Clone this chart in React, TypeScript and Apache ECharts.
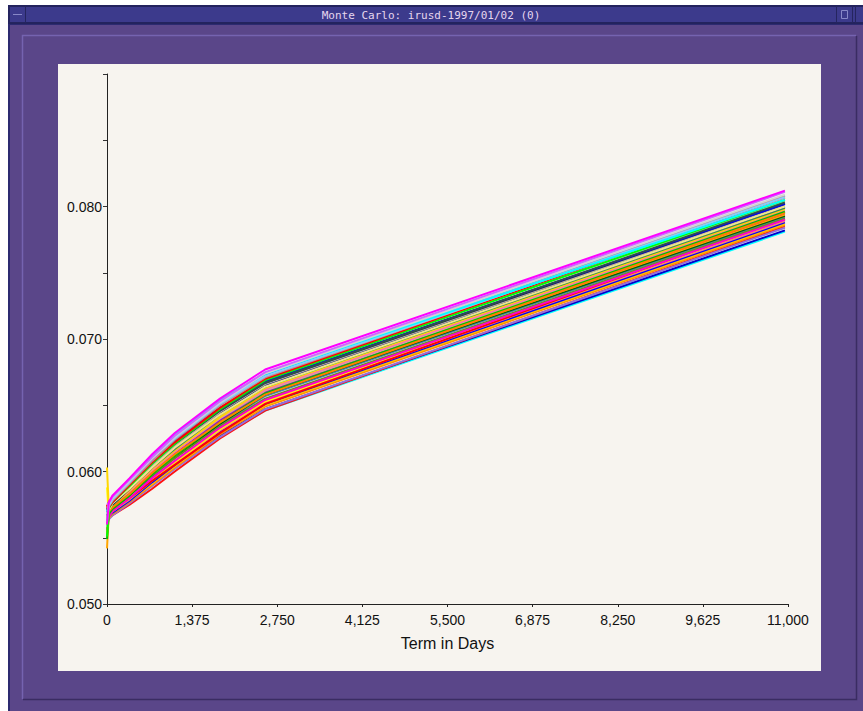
import React, { useEffect, useRef } from "react";
import * as echarts from "echarts";

const terms = [0, 30, 91, 365, 730, 1095, 1825, 2555, 10950];
const xTickLabels = ["0", "1,375", "2,750", "4,125", "5,500", "6,875", "8,250", "9,625", "11,000"];
const yLabelled = ["0.050", "0.060", "0.070", "0.080"];

const path01 = [0.0560, 0.0577, 0.0582, 0.0595, 0.0613, 0.0629, 0.0655, 0.0677, 0.0812];
const path02 = [0.0575, 0.0576, 0.0581, 0.0594, 0.0611, 0.0627, 0.0653, 0.0675, 0.0811];
const path03 = [0.0568, 0.0575, 0.0580, 0.0593, 0.0610, 0.0626, 0.0652, 0.0674, 0.0809];
const path04 = [0.0570, 0.0575, 0.0580, 0.0594, 0.0612, 0.0628, 0.0654, 0.0674, 0.0805];
const path05 = [0.0562, 0.0574, 0.0579, 0.0592, 0.0610, 0.0625, 0.0651, 0.0672, 0.0807];
const path06 = [0.0566, 0.0574, 0.0578, 0.0591, 0.0608, 0.0624, 0.0650, 0.0671, 0.0808];
const path07 = [0.0571, 0.0573, 0.0577, 0.0590, 0.0607, 0.0622, 0.0648, 0.0670, 0.0807];
const path08 = [0.0551, 0.0572, 0.0577, 0.0589, 0.0606, 0.0621, 0.0647, 0.0669, 0.0805];
const path09 = [0.0573, 0.0573, 0.0577, 0.0590, 0.0606, 0.0621, 0.0646, 0.0667, 0.0803];
const path10 = [0.0569, 0.0577, 0.0580, 0.0592, 0.0608, 0.0623, 0.0648, 0.0668, 0.0802];
const path11 = [0.0564, 0.0571, 0.0576, 0.0588, 0.0604, 0.0619, 0.0645, 0.0666, 0.0801];
const path12 = [0.0567, 0.0572, 0.0575, 0.0587, 0.0603, 0.0618, 0.0644, 0.0665, 0.0800];
const path13 = [0.0558, 0.0570, 0.0575, 0.0587, 0.0603, 0.0617, 0.0643, 0.0664, 0.0799];
const path14 = [0.0603, 0.0571, 0.0574, 0.0586, 0.0602, 0.0616, 0.0641, 0.0663, 0.0798];
const path15 = [0.0557, 0.0569, 0.0574, 0.0585, 0.0601, 0.0615, 0.0641, 0.0662, 0.0797];
const path16 = [0.0566, 0.0570, 0.0574, 0.0584, 0.0600, 0.0615, 0.0640, 0.0661, 0.0796];
const path17 = [0.0572, 0.0568, 0.0573, 0.0584, 0.0599, 0.0614, 0.0639, 0.0660, 0.0795];
const path18 = [0.0542, 0.0569, 0.0572, 0.0583, 0.0598, 0.0612, 0.0638, 0.0659, 0.0794];
const path19 = [0.0563, 0.0568, 0.0572, 0.0582, 0.0597, 0.0611, 0.0636, 0.0658, 0.0793];
const path20 = [0.0569, 0.0569, 0.0572, 0.0582, 0.0596, 0.0610, 0.0635, 0.0657, 0.0792];
const path21 = [0.0565, 0.0567, 0.0571, 0.0580, 0.0593, 0.0605, 0.0629, 0.0651, 0.0791];
const path22 = [0.0588, 0.0567, 0.0570, 0.0580, 0.0594, 0.0607, 0.0632, 0.0653, 0.0790];
const path23 = [0.0561, 0.0566, 0.0570, 0.0579, 0.0593, 0.0606, 0.0631, 0.0652, 0.0789];
const path24 = [0.0566, 0.0566, 0.0569, 0.0578, 0.0592, 0.0605, 0.0630, 0.0651, 0.0788];
const path25 = [0.0570, 0.0565, 0.0569, 0.0578, 0.0591, 0.0604, 0.0629, 0.0650, 0.0787];
const path26 = [0.0559, 0.0565, 0.0568, 0.0577, 0.0590, 0.0603, 0.0628, 0.0649, 0.0786];
const path27 = [0.0562, 0.0564, 0.0567, 0.0576, 0.0589, 0.0602, 0.0626, 0.0647, 0.0784];
const path28 = [0.0575, 0.0565, 0.0567, 0.0575, 0.0587, 0.0600, 0.0625, 0.0646, 0.0785];
const path29 = [0.0563, 0.0566, 0.0569, 0.0578, 0.0591, 0.0603, 0.0626, 0.0646, 0.0781];
const path30 = [0.0568, 0.0567, 0.0570, 0.0579, 0.0592, 0.0604, 0.0627, 0.0647, 0.0782];
const path31 = [0.0558, 0.0574, 0.0579, 0.0592, 0.0609, 0.0624, 0.0650, 0.0670, 0.0804];
const path32 = [0.0571, 0.0571, 0.0576, 0.0587, 0.0603, 0.0618, 0.0643, 0.0664, 0.0800];
const path33 = [0.0553, 0.0570, 0.0573, 0.0583, 0.0599, 0.0613, 0.0637, 0.0658, 0.0795];
const path34 = [0.0567, 0.0576, 0.0581, 0.0594, 0.0611, 0.0626, 0.0652, 0.0673, 0.0808];
const path35 = [0.0561, 0.0569, 0.0573, 0.0583, 0.0597, 0.0610, 0.0634, 0.0655, 0.0791];
const path36 = [0.0570, 0.0575, 0.0579, 0.0591, 0.0607, 0.0621, 0.0646, 0.0667, 0.0802];
const path37 = [0.0556, 0.0566, 0.0570, 0.0580, 0.0595, 0.0608, 0.0633, 0.0654, 0.0790];
const path38 = [0.0549, 0.0568, 0.0572, 0.0582, 0.0598, 0.0612, 0.0637, 0.0659, 0.0796];

const paths = [
  path29, path30, path28, path27, path26, path25, path24, path23, path22, path21,
  path20, path19, path18, path17, path16, path15, path14, path13, path12, path11,
  path35, path37, path38, path33, path32, path36, path31, path34,
  path10, path09, path08, path07, path06, path05, path04, path03, path02, path01,
];
const pathColors = [
  "#00ffff", "#0000cd", "#ff1010", "#9370db", "#ff8c00", "#ffc000", "#0000ff", "#fa8072", "#ffff00", "#ff0000",
  "#4682b4", "#006400", "#ffa500", "#9400d3", "#d2b48c", "#ff69b4", "#ffd700", "#2e8b57", "#000080", "#a9a9a9",
  "#6b8e23", "#ff00cc", "#00c000", "#ff7f00", "#f0e68c", "#202020", "#90ee90", "#00bfff",
  "#0000ff", "#2f4f4f", "#00ff00", "#ff0000", "#bc8f8f", "#87cefa", "#00ffff", "#d3d3d3", "#cc66ff", "#ff00ff",
];

const TITLE = "Monte Carlo: irusd-1997/01/02 (0)";

export default function App() {
  const ref = useRef<HTMLDivElement>(null);
  useEffect(() => {
    const chart = echarts.init(ref.current!, null, { renderer: "svg" });
    const purple = "#5a4689";
    const bar = "#3c3a8c";
    const series = paths.map((p, i) => ({
      type: "line",
      data: terms.map((t, j) => [t, p[j]]),
      showSymbol: false,
      symbol: "none",
      lineStyle: { color: pathColors[i], width: 2 },
      itemStyle: { color: pathColors[i] },
      silent: true,
    }));
    chart.setOption({
      animation: false,
      backgroundColor: "#ffffff",
      graphic: [
        { type: "rect", z: -20, silent: true, shape: { x: 8, y: 5, width: 855, height: 706 }, style: { fill: purple } },
        { type: "rect", z: -19, silent: true, shape: { x: 8, y: 5, width: 855, height: 19 }, style: { fill: "#23235e" } },
        { type: "rect", z: -18, silent: true, shape: { x: 10, y: 7, width: 851, height: 15 }, style: { fill: bar } },
        { type: "rect", z: -17, silent: true, shape: { x: 9.5, y: 6.5, width: 16, height: 16 }, style: { fill: bar, stroke: "#25255f", lineWidth: 1 } },
        { type: "line", z: -16, silent: true, shape: { x1: 13, y1: 14.5, x2: 22, y2: 14.5 }, style: { stroke: "#8888c8", lineWidth: 1 } },
        { type: "rect", z: -17, silent: true, shape: { x: 836.5, y: 6.5, width: 16, height: 16 }, style: { fill: bar, stroke: "#25255f", lineWidth: 1 } },
        { type: "rect", z: -16, silent: true, shape: { x: 841.5, y: 10.5, width: 6, height: 8 }, style: { fill: bar, stroke: "#8888c8", lineWidth: 1 } },
        { type: "rect", z: -17, silent: true, shape: { x: 855.5, y: 6.5, width: 10, height: 16 }, style: { fill: bar, stroke: "#25255f", lineWidth: 1 } },
        {
          type: "text", z: -15, silent: true, x: 431, y: 15,
          style: { text: TITLE, fill: "#e6d6ee", font: "11px 'DejaVu Sans Mono', monospace", align: "center", verticalAlign: "middle" },
        },
        { type: "rect", z: -16, silent: true, shape: { x: 8, y: 24, width: 2, height: 687 }, style: { fill: "#2c2a70" } },
        { type: "rect", z: -16, silent: true, shape: { x: 8, y: 24, width: 855, height: 1 }, style: { fill: "#2c2a70" } },
        { type: "polyline", z: -15, silent: true, shape: { points: [[22.5, 699], [22.5, 35.5], [856, 35.5]] }, style: { stroke: "#7563b0", lineWidth: 1.5, fill: "none" } },
        { type: "polyline", z: -15, silent: true, shape: { points: [[23, 699.5], [856.5, 699.5], [856.5, 36]] }, style: { stroke: "#3a2c62", lineWidth: 1.5, fill: "none" } },
        { type: "rect", z: -14, silent: true, shape: { x: 58, y: 64, width: 763, height: 607 }, style: { fill: "#f7f4ef" } },
      ],
      grid: { left: 107, right: 75, top: 74, bottom: 107, containLabel: false },
      xAxis: {
        type: "value",
        min: 0,
        max: 11000,
        interval: 1375,
        name: "Term in Days",
        nameLocation: "middle",
        nameGap: 31,
        nameTextStyle: { color: "#111", fontSize: 16, fontFamily: "Liberation Sans" },
        axisLine: { show: true, lineStyle: { color: "#222", width: 1 } },
        axisTick: { show: true, length: 3, lineStyle: { color: "#222" } },
        splitLine: { show: false },
        axisLabel: {
          color: "#111",
          fontSize: 14,
          fontFamily: "Liberation Sans",
          margin: 9,
          formatter: (v: number) => xTickLabels[Math.round(v / 1375)] ?? "",
        },
      },
      yAxis: {
        type: "value",
        min: 0.05,
        max: 0.09,
        interval: 0.005,
        axisLine: { show: true, lineStyle: { color: "#222", width: 1 } },
        axisTick: { show: true, length: 4, lineStyle: { color: "#333" } },
        splitLine: { show: false },
        axisLabel: {
          color: "#111",
          fontSize: 14,
          fontFamily: "Liberation Sans",
          margin: 5,
          formatter: (v: number) => {
            const k = Math.round(v * 1000);
            if (k % 10 !== 0) return "";
            return yLabelled[(k - 50) / 10] ?? "";
          },
        },
      },
      series,
    });
    return () => chart.dispose();
  }, []);
  return (
    <div
      ref={ref}
      style={{ position: "fixed", left: 0, top: 0, width: 863, height: 711, background: "#fff" }}
    />
  );
}
